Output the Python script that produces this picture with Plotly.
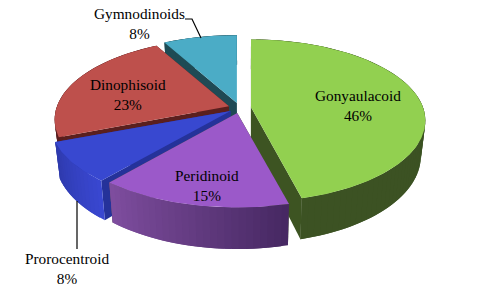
import numpy as np
import plotly.graph_objects as go

categories = ["Gonyaulacoid", "Peridinoid", "Prorocentroid", "Dinophisoid", "Gymnodinoids"]
shares = [46, 15, 8, 23, 8]

top_colors = ["#92D050", "#9B59C9", "#3848D0", "#BE504C", "#4BACC6"]
side_colors = ["#3D5422", "#3D5422", "#25329A", "#5A1F1E", "#1F4A55"]
rim_stops = [
    [(64, 88, 32), (58, 82, 34), (60, 82, 35), (60, 82, 35)],
    [(70, 40, 98), (100, 60, 130), (128, 78, 160)],
    [(58, 72, 210), (46, 58, 172)],
    [(90, 30, 30), (90, 30, 30)],
    [(30, 75, 85), (30, 75, 85)],
]
label_pos = [(357.5, 105), (207, 185), (67, 268), (128, 94), (139, 23)]
radius_scale = [1.0, 1.02, 1.03, 1.0, 1.0]
draw_order = [4, 3, 2, 0, 1]

CX, CY, EX, EY = 239.7, 108.0, 11.4, 5.1
RX, RY, P = 172.0, 79.0, 0.1635
XV, SX = 245.0, 0.975


def apex(mid):
    m = np.radians(mid)
    return CX + EX * np.sin(m), CY - EY * np.cos(m)


def project(cat_index, deg, mid):
    a = np.radians(deg)
    u, v = np.sin(a), -np.cos(a)
    w = 1 - P * v
    ax, ay = apex(mid)
    s = radius_scale[cat_index]
    return ax + s * RX * u / w, ay + RY * v / w


def down(x, y):
    x, y = np.asarray(x, float), np.asarray(y, float)
    return XV + (x - XV) * SX, y + 37 + (y - 142) * 0.07


def poly(fig, xs, ys, color):
    xs = list(xs) + [xs[0]]
    ys = list(ys) + [ys[0]]
    fig.add_trace(go.Scatter(x=xs, y=ys, mode="lines", fill="toself", fillcolor=color,
                             line=dict(color=color, width=0), hoverinfo="skip", showlegend=False))


def lerp(stops, t):
    n = len(stops) - 1
    k = min(int(t * n), n - 1)
    f = t * n - k
    c = [stops[k][j] + (stops[k + 1][j] - stops[k][j]) * f for j in range(3)]
    return "rgb(%d,%d,%d)" % tuple(c)


fig = go.Figure()
total = sum(shares)
edges = np.concatenate([[0], np.cumsum(shares)]) * 360.0 / total

for i in draw_order:
    a0, a1 = edges[i], edges[i + 1]
    mid = (a0 + a1) / 2
    ax, ay = apex(mid)
    bax, bay = down(ax, ay)
    for edge in (a0, a1):
        x, y = project(i, edge, mid)
        bx, by = down(x, y)
        poly(fig, [ax, x, float(bx), float(bax)], [ay, y, float(by), float(bay)], side_colors[i])
    steps = max(int((a1 - a0) / 2), 4)
    grid = np.linspace(a0, a1, steps + 1)
    for k in range(steps):
        # each strip runs on under the next one, so no seam shows between them
        sub = np.linspace(grid[k], grid[min(k + 2, steps)], 6)
        x, y = project(i, sub, mid)
        bx, by = down(x, y)
        poly(fig, list(x) + list(bx[::-1]), list(y) + list(by[::-1]),
             lerp(rim_stops[i], (k + 0.5) / steps))
    arc = np.linspace(a0, a1, int(a1 - a0) + 2)
    x, y = project(i, arc, mid)
    poly(fig, [ax] + list(x), [ay] + list(y), top_colors[i])

# leader lines
fig.add_trace(go.Scatter(x=[185, 192, 201], y=[19, 19, 38], mode="lines",
                         line=dict(color="#000000", width=1.2), hoverinfo="skip", showlegend=False))
fig.add_trace(go.Scatter(x=[77, 77], y=[201, 249], mode="lines",
                         line=dict(color="#000000", width=1.2), hoverinfo="skip", showlegend=False))

for name, share, (lx, ly) in zip(categories, shares, label_pos):
    fig.add_annotation(x=lx, y=ly, text=f"{name}<br>{share}%", showarrow=False,
                       xanchor="center", yanchor="middle",
                       font=dict(family="Liberation Serif", size=15.3, color="#000000"))

fig.update_layout(width=480, height=288, margin=dict(l=0, r=0, t=0, b=0),
                  paper_bgcolor="white", plot_bgcolor="white", showlegend=False,
                  xaxis=dict(range=[0, 480], visible=False, fixedrange=True),
                  yaxis=dict(range=[288, 0], visible=False, fixedrange=True))
fig.write_html("out.html", config={"displayModeBar": False},
               post_script="document.body.style.margin='0';")
